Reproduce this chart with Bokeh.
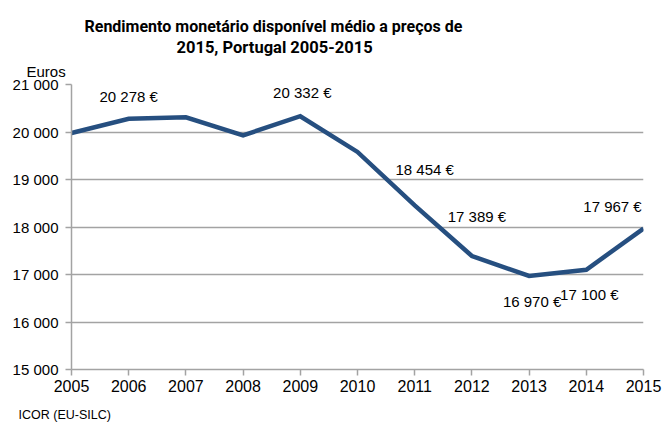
from bokeh.plotting import figure
from bokeh.models import ColumnDataSource, LabelSet, Range1d, FixedTicker, Title
from bokeh.core.properties import value
from bokeh.embed import file_html
from bokeh.resources import INLINE

# ---- data ----
years = [2005, 2006, 2007, 2008, 2009, 2010, 2011, 2012, 2013, 2014, 2015]
income = [19980, 20278, 20310, 19930, 20332, 19580, 18454, 17389, 16970, 17100, 17967]
labelled_years = [2006, 2009, 2011, 2012, 2013, 2014, 2015]
y_ticks = [15000, 16000, 17000, 18000, 19000, 20000, 21000]
y_tick_labels = ["15 000", "16 000", "17 000", "18 000", "19 000", "20 000", "21 000"]
x_tick_labels = ["2005", "2006", "2007", "2008", "2009", "2010", "2011", "2012", "2013", "2014", "2015"]
title_lines = ["Rendimento monetário disponível médio a preços de", "2015, Portugal 2005-2015"]
y_unit = "Euros"
source_note = "ICOR (EU-SILC)"

FONT = "Liberation Sans"
TITLE_FONT = "Roboto"
LINE_COLOR = "#264f80"
GRID_COLOR = "#a3a3a3"

p = figure(width=669, height=432, output_backend="svg", toolbar_location=None,
           x_range=Range1d(2005, 2015), y_range=Range1d(15000, 21000),
           min_border_left=71, min_border_right=26, min_border_top=84, min_border_bottom=63)
p.outline_line_color = None
p.background_fill_color = "white"
p.border_fill_color = "white"

# axes
p.xaxis.ticker = FixedTicker(ticks=years)
p.xaxis.major_label_overrides = {y: s for y, s in zip(years, x_tick_labels)}
p.yaxis.ticker = FixedTicker(ticks=y_ticks)
p.yaxis.major_label_overrides = {v: s for v, s in zip(y_ticks, y_tick_labels)}
for ax in (p.xaxis[0], p.yaxis[0]):
    ax.axis_line_color = GRID_COLOR
    ax.axis_line_width = 1.5
    ax.major_tick_line_color = GRID_COLOR
    ax.major_tick_line_width = 1.5
    ax.minor_tick_line_color = None
    ax.major_tick_in = 0
    ax.major_tick_out = 6
    ax.major_label_text_font = FONT
    ax.major_label_text_color = "#000000"
p.xaxis.major_label_text_font_size = "16px"
p.xaxis.major_label_standoff = 4
p.yaxis.major_label_text_font_size = "15px"
p.yaxis.major_label_standoff = 7

p.xgrid.grid_line_color = None
p.ygrid.grid_line_color = GRID_COLOR
p.ygrid.grid_line_width = 1.5

# line
src = ColumnDataSource(data=dict(x=years, y=income))
p.line("x", "y", source=src, line_color=LINE_COLOR, line_width=4.5, line_join="miter")

# data labels (offsets in screen px, positive dy = up)
offsets = {2006: (0, 22), 2009: (2, 24), 2011: (10, 36), 2012: (5, 40),
           2013: (3, -26), 2014: (3, -25), 2015: (-31, 22)}
lx, ly, lt, dx, dy = [], [], [], [], []
for yr, v in zip(years, income):
    if yr in labelled_years:
        lx.append(yr)
        ly.append(v)
        lt.append(f"{v:,}".replace(",", " ") + " €")
        dx.append(offsets[yr][0])
        dy.append(offsets[yr][1])
lsrc = ColumnDataSource(data=dict(x=lx, y=ly, t=lt, dx=dx, dy=dy))
p.add_layout(LabelSet(x="x", y="y", text="t", source=lsrc, x_offset="dx", y_offset="dy",
                      text_align="center", text_baseline="middle",
                      text_font=value(FONT), text_font_size=value("15px"), text_color="#000000"))

# texts outside the frame, as titles (stacked outward from the frame)
def side_title(text, side, offset, standoff, font, size, style="normal"):
    p.add_layout(Title(text=text, align="left", offset=offset, standoff=standoff,
                       text_font=font, text_font_style=style, text_font_size=size,
                       text_color="#000000"), side)

side_title(y_unit, "above", -45, 9, FONT, "15px")
side_title(title_lines[1], "above", 105, 0, TITLE_FONT, "16.5px", "bold")
side_title(title_lines[0], "above", 13, 0, TITLE_FONT, "16px", "bold")
side_title(source_note, "below", -53, 22, FONT, "12.5px")

open("out.html", "w").write(file_html(p, INLINE))
